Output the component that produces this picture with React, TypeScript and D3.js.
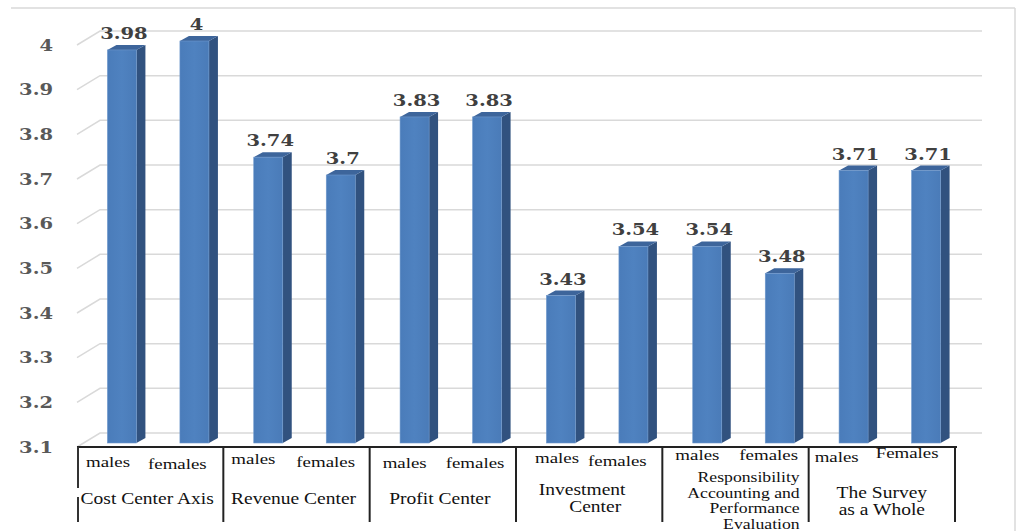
import React from "react";
import * as d3 from "d3";

// Mean scores by gender for each axis of the survey
const categories = [
  "Cost Center Axis",
  "Revenue Center",
  "Profit Center",
  "Investment Center",
  "Responsibility Accounting and Performance Evaluation",
  "The Survey as a Whole",
];
const males = [3.98, 3.74, 3.83, 3.43, 3.54, 3.71];
const females = [4.0, 3.7, 3.83, 3.54, 3.48, 3.71];
const genderLabels = [
  ["males", "females"],
  ["males", "females"],
  ["males", "females"],
  ["males", "females"],
  ["males", "females"],
  ["males", "Females"],
];
const categoryLines = [
  ["Cost Center Axis"],
  ["Revenue Center"],
  ["Profit Center"],
  ["Investment", "Center"],
  ["Responsibility", "Accounting and", "Performance", "Evaluation"],
  ["The Survey", "as a Whole"],
];
const tickValues = [3.1, 3.2, 3.3, 3.4, 3.5, 3.6, 3.7, 3.8, 3.9, 4.0];

// hand-placed offsets of the gender labels inside each table cell: [dx males, y males, dx females, y females]
const genderLabelLayout = [
  [9, 467, 71, 469],
  [8, 464, 73, 467],
  [13, 468, 76, 468],
  [19, 463, 72, 466],
  [13, 460, 77, 460],
  [6, 462, 67, 458],
];

const W = 1020;
const H = 531;
const STRETCH = 1.22;
const VALUE_FONT = "'DejaVu Serif', serif";
const TEXT_FONT = "'Liberation Serif', 'Times New Roman', serif";

// 3D geometry
const FRONT_X0 = 77;
const FRONT_X1 = 955;
const BACK_DX = 23; // depth vector front -> back wall
const BAR_DX = 8; // bars sit a little inside the floor
const SIDE_DX = 9;
const SIDE_DY = -5;

const yBar = d3.scaleLinear().domain([3.1, 4.0]).range([443, 41]);
const yFront = (v: number) => yBar(v) + 4;
const yBack = (v: number) => yBar(v) - 10;

const outer = d3.scaleBand<string>().domain(categories).range([FRONT_X0, FRONT_X1]).padding(0);
const inner = d3
  .scaleBand<string>()
  .domain(["m", "f"])
  .range([0, outer.bandwidth()])
  .paddingInner(0.6)
  .paddingOuter(0.309);

const fmt = (v: number) => d3.format("~g")(v);

function StretchText(props: {
  x: number;
  y: number;
  text: string;
  anchor?: "start" | "middle" | "end";
  size: number;
  fill: string;
  weight?: string | number;
  family: string;
}) {
  const { x, y, text, anchor = "start", size, fill, weight = "normal", family } = props;
  return (
    <text
      transform={`translate(${x},${y}) scale(${STRETCH},1)`}
      textAnchor={anchor}
      fontSize={size}
      fill={fill}
      fontWeight={weight}
      fontFamily={family}
    >
      {text}
    </text>
  );
}

function Bar({ x, v }: { x: number; v: number }) {
  const w = inner.bandwidth();
  const y = yBar(v);
  const y0 = yBar(3.1);
  const top = `M${x},${y}L${x + w},${y}L${x + w + SIDE_DX},${y + SIDE_DY}L${x + SIDE_DX},${y + SIDE_DY}Z`;
  const side = `M${x + w},${y}L${x + w + SIDE_DX},${y + SIDE_DY}L${x + w + SIDE_DX},${y0 + SIDE_DY}L${x + w},${y0}Z`;
  return (
    <g>
      <path d={side} fill="#31527f" />
      <path d={top} fill="#3d659b" />
      <rect x={x} y={y} width={w} height={y0 - y} fill="url(#frontGrad)" stroke="#6f98cc" strokeWidth={0.6} />
      <StretchText
        x={x + w / 2 + 2}
        y={y - 11}
        text={fmt(v)}
        anchor="middle"
        size={16}
        fill="#404040"
        weight="bold"
        family={VALUE_FONT}
      />
    </g>
  );
}

export default function App() {
  const bandEnd = (c: string) => (outer(c) as number) + outer.bandwidth();
  const boundaries = [...categories.map((c) => outer(c) as number), FRONT_X1];

  return (
    <svg
      width={W}
      height={H}
      viewBox={`0 0 ${W} ${H}`}
      style={{ position: "absolute", left: 0, top: 0, background: "#fff" }}
    >
      <defs>
        <linearGradient id="frontGrad" x1="0" x2="1" y1="0" y2="0">
          <stop offset="0" stopColor="#4a7cba" />
          <stop offset="0.5" stopColor="#4f82c0" />
          <stop offset="1" stopColor="#4a7bb8" />
        </linearGradient>
      </defs>

      {/* outer frame */}
      <line x1={11} x2={1015} y1={8} y2={8} stroke="#d9d9d9" strokeWidth={1.5} />
      <line x1={1015} x2={1015} y1={8} y2={H} stroke="#d9d9d9" strokeWidth={1.5} />

      {/* side wall and back wall gridlines */}
      {tickValues.map((t) => (
        <polyline
          key={t}
          points={`${FRONT_X0},${yFront(t)} ${FRONT_X0 + BACK_DX},${yBack(t)} ${FRONT_X1 + BACK_DX + 4},${yBack(t)}`}
          fill="none"
          stroke="#d9d9d9"
          strokeWidth={1.5}
        />
      ))}

      {/* y-axis labels */}
      {tickValues.map((t) => (
        <StretchText
          key={t}
          x={53}
          y={yFront(t) + 5.5}
          text={fmt(t)}
          anchor="end"
          size={16}
          fill="#595959"
          weight="bold"
          family={VALUE_FONT}
        />
      ))}

      {/* bars */}
      {categories.map((c, i) => (
        <g key={c}>
          <Bar x={(outer(c) as number) + (inner("m") as number) + BAR_DX} v={males[i]} />
          <Bar x={(outer(c) as number) + (inner("f") as number) + BAR_DX} v={females[i]} />
        </g>
      ))}

      {/* category table */}
      <line x1={FRONT_X0} x2={FRONT_X1 + 2} y1={447} y2={447} stroke="#222" strokeWidth={2} />
      {boundaries.map((bx, i) =>
        i === 0 ? (
          <g key={i}>
            <line x1={bx + 1} x2={bx + 1} y1={447} y2={488} stroke="#333" strokeWidth={2} />
            <line x1={bx + 1} x2={bx + 1} y1={497} y2={522} stroke="#333" strokeWidth={2} />
          </g>
        ) : (
          <line key={i} x1={bx} x2={bx} y1={447} y2={522} stroke="#222" strokeWidth={2} />
        )
      )}

      {categories.map((c, i) => {
        const x0 = outer(c) as number;
        const [mdx, my, fdx, fy] = genderLabelLayout[i];
        return (
          <g key={c}>
            <StretchText x={x0 + mdx} y={my} text={genderLabels[i][0]} size={15.5} fill="#111" family={TEXT_FONT} />
            <StretchText x={x0 + fdx} y={fy} text={genderLabels[i][1]} size={15.5} fill="#111" family={TEXT_FONT} />
          </g>
        );
      })}

      {/* category names */}
      {categoryLines.map((lines, i) => {
        const c = categories[i];
        const mid = (outer(c) as number) + outer.bandwidth() / 2;
        if (lines.length === 1) {
          return (
            <StretchText key={c} x={mid - 3} y={504} text={lines[0]} anchor="middle" size={16} fill="#111" family={TEXT_FONT} />
          );
        }
        if (lines.length === 4) {
          return (
            <g key={c}>
              {lines.map((l, j) => (
                <StretchText
                  key={l}
                  x={bandEnd(c) - 9}
                  y={482 + j * 15.5}
                  text={l}
                  anchor="end"
                  size={14.5}
                  fill="#111"
                  family={TEXT_FONT}
                />
              ))}
            </g>
          );
        }
        const first = i === 3 ? 495 : 498;
        return (
          <g key={c}>
            {lines.map((l, j) => (
              <StretchText
                key={l}
                x={i === 3 ? mid - 7 + j * 13 : mid}
                y={first + j * 17}
                text={l}
                anchor="middle"
                size={16}
                fill="#111"
                family={TEXT_FONT}
              />
            ))}
          </g>
        );
      })}
    </svg>
  );
}
